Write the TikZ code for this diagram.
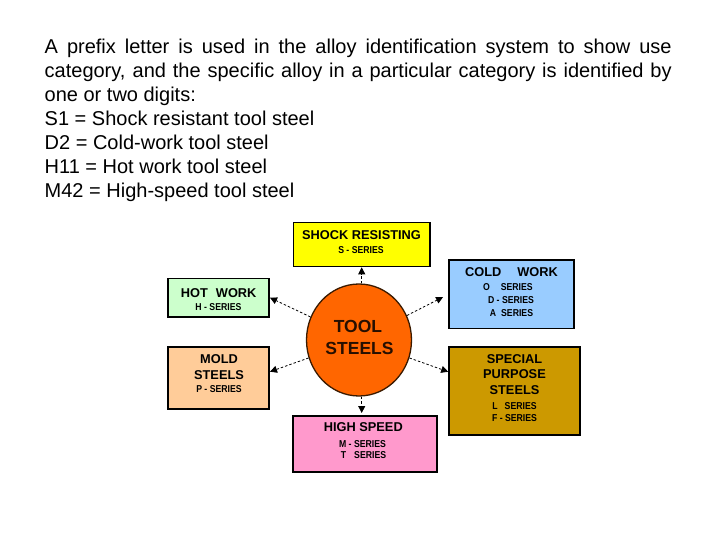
\documentclass[tikz,border=0pt]{standalone}
\usepackage{fontspec}
\setmainfont{Liberation Sans}
\newfontfamily\srfont[FakeStretch=0.87]{Liberation Sans}
\usetikzlibrary{arrows.meta,calc,shapes.geometric}
\definecolor{cShock}{HTML}{FFFF00}
\definecolor{cCold}{HTML}{99CCFF}
\definecolor{cHot}{HTML}{CCFFCC}
\definecolor{cMold}{HTML}{FFCC99}
\definecolor{cSpec}{HTML}{CC9900}
\definecolor{cHigh}{HTML}{FF99CC}
\definecolor{cTool}{HTML}{FF6600}
\definecolor{cRim}{HTML}{3A1A00}
\begin{document}
\begin{tikzpicture}[x=1pt,y=-1pt,
  catbox/.style={draw=black, line width=1.6pt, inner sep=0pt},
  hd/.style={font=\bfseries\fontsize{12.8}{14}\selectfont, anchor=base, inner sep=0pt},
  sr/.style={font=\srfont\bfseries\fontsize{10}{11}\selectfont, anchor=base, inner sep=0pt},
  big/.style={font=\bfseries\fontsize{17.5}{20}\selectfont, anchor=base, inner sep=0pt, text=black!85!cTool},
  txt/.style={font=\fontsize{20}{24}\selectfont, anchor=base west, inner sep=0pt},
  arr/.style={draw=black, line width=0.8pt, dash pattern=on 2.5pt off 2pt, -{Triangle[length=7pt,width=7pt]}}
]
\useasboundingbox (0,0) rectangle (720,540);
\fill[white] (0,0) rectangle (720,540);

% header text
\node[txt] (l1) at (44.5,54) {\makebox[627pt][s]{A prefix letter is used in the alloy identification system to show use}};
\node[txt] (l2) at (44.5,78) {\makebox[627pt][s]{category, and the specific alloy in a particular category is identified by}};
\node[txt] (l3) at (44.5,102) {one or two digits:};
\node[txt] (l4) at (44.5,126) {S1 = Shock resistant tool steel};
\node[txt] (l5) at (44.5,150) {D2 = Cold-work tool steel};
\node[txt] (l6) at (44.5,174) {H11 = Hot work tool steel};
\node[txt] (l7) at (44.5,198) {M42 = High-speed tool steel};

% boxes
\node[catbox, fill=cShock, minimum width=136.5pt, minimum height=44pt] (shock) at (361.7,244.5) {};
\node[catbox, fill=cCold, minimum width=125pt, minimum height=68.5pt] (cold) at (511.7,294.3) {};
\node[catbox, fill=cHot, minimum width=101pt, minimum height=38.5pt] (hot) at (218.7,297.7) {};
\node[catbox, fill=cMold, minimum width=101pt, minimum height=62.5pt] (mold) at (218.7,378) {};
\node[catbox, fill=cSpec, minimum width=131pt, minimum height=88pt] (special) at (514.5,390.8) {};
\node[catbox, fill=cHigh, minimum width=144pt, minimum height=56pt] (high) at (365,443.8) {};
\node[ellipse, draw=cRim, line width=1.3pt, fill=cTool, minimum width=105pt, minimum height=112pt, inner sep=0pt] (c) at (359,340) {};

% box texts
\node[hd] (shockA) at (361.5,239.5) {SHOCK RESISTING};
\node[sr] (shockB) at (361,253.6) {S - SERIES};

\node[hd] (coldA) at (511.5,276.8) {COLD\hspace{16pt}WORK};
\node[sr] (coldB) at (507.9,290.9) {O\hspace{11pt}SERIES};
\node[sr] (coldC) at (511,303.6) {D - SERIES};
\node[sr] (coldD) at (511.5,316.3) {A\hspace{5pt}SERIES};

\node[hd] (hotA) at (218.7,297.2) {HOT\hspace{8pt}WORK};
\node[sr] (hotB) at (218.4,310.9) {H - SERIES};

\node[hd] (moldA) at (219,363.8) {MOLD};
\node[hd] (moldB) at (219,379.5) {STEELS};
\node[sr] (moldC) at (219,392.9) {P - SERIES};

\node[hd] (specA) at (514.5,363.5) {SPECIAL};
\node[hd] (specB) at (514.5,378.8) {PURPOSE};
\node[hd] (specC) at (514.5,394.2) {STEELS};
\node[sr] (specD) at (514.5,409.3) {L\hspace{7pt}SERIES};
\node[sr] (specE) at (514.5,421.6) {F - SERIES};

\node[hd] (highA) at (363.3,431.8) {HIGH SPEED};
\node[sr] (highB) at (362.5,447.3) {M - SERIES};
\node[sr] (highC) at (363.5,458.6) {T\hspace{8pt}SERIES};

\node[big] (toolA) at (358,332.3) {TOOL};
\node[big] (toolB) at (359.5,354.6) {STEELS};

% connectors
\draw[arr] (c.north -| shock.south) -- (shock.south);
\draw[arr, shorten >=2pt] (c.south -| shock.south) -- (shock.south |- high.north);
\draw[arr] (c) -- (hot.east);
\draw[arr, shorten >=6pt] (c) -- (cold.west);
\draw[arr] (c) -- (mold.7);
\draw[arr] (c) -- (special.164);
\end{tikzpicture}
\end{document}
